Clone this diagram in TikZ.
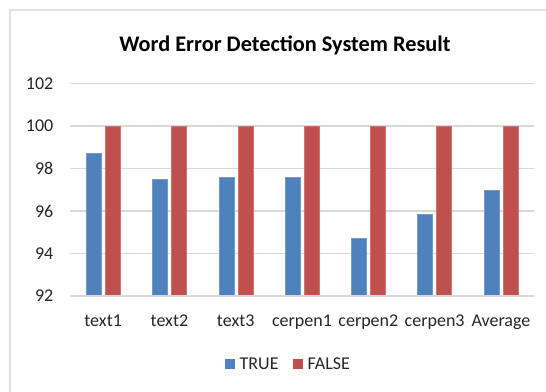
\documentclass[tikz,border=0pt]{standalone}
\usepackage{fontspec}
\setmainfont{Carlito}
\definecolor{seriesA}{HTML}{4F81BD}
\definecolor{seriesB}{HTML}{C0504D}
\definecolor{gridgray}{HTML}{D9D9D9}
\definecolor{labelgray}{HTML}{262626}
\begin{document}
\begin{tikzpicture}[x=1pt,y=-1pt,
  gridline/.style={draw=gridgray,line width=1.2pt},
  frameline/.style={draw=gridgray!80!white,line width=1.6pt},
  truebar/.style={fill=seriesA,draw=seriesA!80!white,line width=0.5pt},
  falsebar/.style={fill=seriesB,draw=seriesB!80!white,line width=0.5pt},
  ticklabel/.style={anchor=east,inner sep=0pt,text=labelgray,font=\fontsize{18}{20}\selectfont},
  catlabel/.style={anchor=base,inner sep=0pt,text=labelgray,font=\fontsize{18}{20}\selectfont},
  legendlabel/.style={anchor=west,inner sep=0pt,text=labelgray,font=\fontsize{18}{20}\selectfont},
  charttitle/.style={anchor=base,inner sep=0pt,text=black,font=\fontsize{22.3}{26}\selectfont\bfseries}]
\useasboundingbox (0,0) rectangle (546,391);
\clip (0,0) rectangle (546,391);
\fill[white] (0,0) rectangle (546,391);
% chart frame
\draw[frameline] (10,10) rectangle (570,410);
% title
\node[charttitle] (title) at (285,51) {Word Error Detection System Result};
% value axis: y(v) = 296 - (v-92)*21.25
\foreach \v in {92,94,...,102}{
  \pgfmathsetmacro{\yy}{296-(\v-92)*21.25}
  \draw[gridline] (70,\yy) -- (534,\yy);
  \node[ticklabel] (tick\v) at (53.5,\yy) {\v};
}
% bars
\foreach \name/\t [count=\i from 0] in {text1/98.71,text2/97.49,text3/97.57,cerpen1/97.57,cerpen2/94.70,cerpen3/95.86,Average/96.99}{
  \pgfmathsetmacro{\cx}{70+66.3*(\i+0.5)}
  \pgfmathsetmacro{\ty}{296-(\t-92)*21.25}
  \pgfmathsetmacro{\fy}{296-(100-92)*21.25}
  \fill[truebar] (\cx-17,\ty) rectangle (\cx-2,296);
  \fill[falsebar] (\cx+2,\fy) rectangle (\cx+17,296);
  \node[catlabel] (cat\i) at (\cx,326.5) {\name};
}
% baseline redrawn over bar feet
\draw[gridline] (70,296) -- (534,296);
% legend
\fill[seriesA] (225,359) rectangle (235,369);
\node[legendlabel] (legtrue) at (239.5,364) {TRUE};
\fill[seriesB] (293,359) rectangle (303,369);
\node[legendlabel] (legfalse) at (307.5,364) {FALSE};
\end{tikzpicture}
\end{document}
